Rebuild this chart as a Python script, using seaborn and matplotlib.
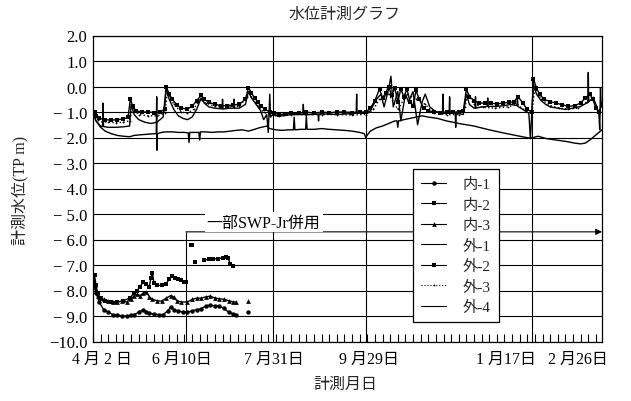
"""
水位計測グラフ (measured water levels, 4/2 - 2/26)
"""

import numpy as np
import pandas as pd
import matplotlib
matplotlib.use('Agg')
import matplotlib.pyplot as plt
from matplotlib.lines import Line2D
from matplotlib.ticker import MultipleLocator
import seaborn as sns

N = None  # 欠測 (gap)

# x = days since 4月2日, y = water level (TP m)
# --- 内側 (deep) ---
in1_day = [0, 2, 4, 7, 10, 13, 16, 19, 22, 25, 27, 30, 33, 35, 37, 40, 43, 46, 49, 51, 53, 56, 59, 62,
           65, 68, 71, 74, 77, 80, 83, 86, 89, 92, 94, 98, 102]
in1_lvl = [-7.7, -8.1, -8.45, -8.75, -8.85, -8.95, -8.95, -9.0, -9.0, -8.97, -8.95, -8.85, -8.75, -8.85,
           -8.9, -8.92, -8.95, -8.95, -8.8, -8.65, -8.75, -8.8, -8.85, -8.85, -8.8, -8.75, -8.72, -8.6,
           -8.58, -8.6, -8.62, -8.7, -8.85, -8.92, -8.95, N, -8.85]

in2_day = [0, 1, 2, 3, 5, 8, 12, 16, 20, 24, 27, 29, 31, 33, 35, 37, 38, 39, 40, 42, 45, 48, 50, 52,
           54, 56, 58, 60, 61, 63, 64, 65, 66, 67, 70, 73, 76, 79, 82, 85, 87, 88.6, 90, 92]
in2_lvl = [-7.6, -7.4, -7.8, -8.1, -8.3, -8.4, -8.45, -8.45, -8.4, -8.3, -8.1, -8.0, -7.85, -7.65,
           -7.75, -7.85, -7.5, -7.3, -7.7, -7.8, -7.8, -7.75, -7.55, -7.45, -7.5, -7.55, -7.6, -7.65,
           -7.65, N, -6.2, -6.2, N, -6.9, N, -6.8, -6.78, -6.77, -6.75, -6.72, -6.7, -6.72, -6.95, -7.05]

in3_day = [0, 1, 2, 3, 5, 7, 10, 13, 16, 19, 22, 25, 27, 29, 31, 33, 35, 37, 39, 42, 45, 48, 51, 53,
           55, 58, 62, 65, 68, 71, 74, 77, 80, 83, 86, 89, 92, 94, 98, 102]
in3_lvl = [-7.5, -7.8, -8.0, -8.2, -8.3, -8.35, -8.4, -8.45, -8.45, -8.42, -8.45, -8.35, -8.2, -8.15,
           -8.2, -8.1, -8.05, -8.25, -8.35, -8.4, -8.42, -8.3, -8.2, -8.25, -8.4, -8.45, -8.45, -8.35,
           -8.3, -8.3, -8.25, -8.22, -8.3, -8.32, -8.35, -8.4, -8.45, -8.45, N, -8.4]

# --- 外側 (shallow) ---
out1_day = [0, 2, 5, 8, 12, 16, 20, 24, 27, 30, 34, 38, 41.5, 41.8, 42.0, 42.3, 45, 48, 52, 56, 60,
            62.5, 63, 63.5, 67, 69.5, 70, 70.5, 74, 78, 82, 86, 90, 94, 98, 102, 106, 109, 112, 114,
            116, 120, 124, 128, 131.5, 132, 132.5, 136, 139.5, 140, 140.5, 145, 150, 155, 160, 165,
            170, 175, 178, 179, 180, 182, 186, 190, 194, 198, 199.5, 200, 200.5, 204, 208, 212, 216,
            220, 226, 232, 240, 250, 260, 270, 280, 286, 289, 292, 298, 304, 310, 316, 320, 323, 326,
            329, 332, 334]
out1_lvl = [-1.1, -1.35, -1.6, -1.75, -1.85, -1.92, -1.95, -1.97, -1.92, -1.9, -1.88, -1.86, -1.85,
            -0.4, -2.5, -1.85, -1.8, -1.78, -1.78, -1.8, -1.8, -1.82, -2.2, -1.8, -1.8, -1.8, -2.1,
            -1.78, -1.78, -1.8, -1.78, -1.78, -1.75, -1.72, -1.7, -1.75, -1.68, -1.62, -1.58, -1.55,
            -1.65, -1.7, -1.72, -1.7, -1.7, -1.2, -1.7, -1.68, -1.68, -1.15, -1.68, -1.68, -1.65,
            -1.68, -1.7, -1.72, -1.75, -1.8, -1.85, -2.0, -1.9, -1.75, -1.62, -1.55, -1.45, -1.35,
            -1.35, -1.6, -1.35, -1.3, -1.25, -1.2, -1.15, -1.2, -1.25, -1.35, -1.45, -1.55, -1.7,
            -1.83, -1.95, -2.02, -2.0, -1.95, -2.05, -2.1, -2.15, -2.22, -2.25, -2.22, -2.1, -1.95,
            -1.8, -1.7]

out2_day = [0, 1, 2, 4, 8, 12, 16, 20, 23, 24.5, 26, 28, 32, 36, 40, 44, 47, 48, 50, 52, 55, 58, 62,
            65, 68, 71, 73, 76, 80, 84, 88, 92, 96, 100, 102, 104, 106, 108, 110, 113, 116, 119, 122,
            126, 130, 135, 140, 145, 150, 155, 160, 165, 170, 175, 179, 182, 185, 188, 190, 192, 194,
            196, 198, 200, 202, 204, 206, 208, 210, 212, 214, 217, 220, 224, 228, 232, 236, 240, 243,
            245, 247, 250, 253, 257, 261, 265, 269, 273, 276, 279, 282, 285, 288, 289, 291, 293, 296,
            300, 304, 308, 312, 316, 320, 323, 326, 328, 330, 332, 334]
out2_lvl = [-1.05, -1.0, -1.15, -1.25, -1.3, -1.32, -1.3, -1.28, -1.2, -0.5, -0.75, -0.95, -1.0,
            -1.0, -1.02, -1.0, -0.9, 0.0, -0.3, -0.5, -0.72, -0.85, -0.88, -0.78, -0.55, -0.35, -0.5,
            -0.62, -0.7, -0.75, -0.75, -0.72, -0.7, -0.5, -0.05, -0.25, -0.45, -0.6, -0.75, -0.9,
            -1.0, -1.05, -1.1, -1.08, -1.05, -1.05, -1.0, -1.05, -1.0, -1.03, -1.0, -1.0, -1.02,
            -1.0, -1.0, -0.85, -0.55, -0.1, -0.45, -0.25, 0.0, -0.35, -0.05, -0.6, -0.1, -0.4, -0.1,
            -0.6, -0.75, -0.15, -0.5, -0.85, -0.95, -1.0, -1.02, -1.0, -1.0, -1.0, -0.95, -0.1,
            -0.4, -0.55, -0.65, -0.65, -0.65, -0.68, -0.65, -0.62, -0.6, -0.4, -0.65, -0.9, -1.0,
            0.3, -0.05, -0.3, -0.5, -0.6, -0.65, -0.72, -0.78, -0.75, -0.65, -0.45, -0.3, -0.5,
            -0.85, -1.0, -0.7]

out3_day = [0, 3, 6, 10, 15, 20, 24, 26, 30, 36, 42, 47, 49, 53, 58, 62, 66, 70, 74, 80, 88, 96, 101,
            104, 108, 112, 116, 122, 130, 140, 150, 160, 170, 179, 184, 188, 194, 200, 206, 212, 218,
            224, 232, 240, 244, 246, 250, 256, 264, 272, 278, 284, 288, 290, 294, 300, 306, 312, 318,
            324, 328, 331, 334]
out3_lvl = [-1.1, -1.3, -1.38, -1.4, -1.42, -1.4, -1.35, -0.85, -1.1, -1.15, -1.15, -1.05, -0.2,
            -0.7, -1.0, -1.05, -0.9, -0.5, -0.65, -0.78, -0.8, -0.78, -0.4, -0.4, -0.75, -1.0, -1.1,
            -1.15, -1.1, -1.1, -1.1, -1.1, -1.12, -1.1, -0.9, -0.5, -0.3, -0.9, -0.3, -0.5, -0.7,
            -1.05, -1.1, -1.1, -0.8, -0.3, -0.7, -0.82, -0.85, -0.8, -0.7, -0.95, -1.05, 0.0, -0.5,
            -0.75, -0.85, -0.88, -0.85, -0.6, -0.4, -0.9, -1.0]

out4_day = [0, 2, 5, 6.3, 6.6, 6.9, 10, 15, 20, 24, 25, 27, 30, 34, 38, 42, 46, 48, 50, 53, 56, 59,
            62, 65, 68, 71, 73, 76, 80, 84.7, 85, 85.3, 90, 92.3, 92.6, 92.9, 96, 100, 102, 104, 107,
            110, 112, 114, 115, 115.5, 116, 116.5, 118, 120, 125, 130, 137.7, 138, 138.3, 144, 147.7,
            148, 148.3, 155, 160, 165, 172.7, 173, 173.3, 179, 182, 186, 189, 191, 194, 195.5, 197,
            200, 202, 205, 207, 210, 213, 216, 218, 221, 224, 228, 229.3, 229.6, 229.9, 233.7, 234,
            234.3, 237.7, 238, 238.3, 243, 245, 247, 250, 250.7, 251, 251.3, 255, 258.7, 259, 259.3,
            265, 270, 274, 278.2, 278.5, 278.8, 282, 286, 287, 288, 289, 291, 294, 297, 300, 305,
            310, 315, 320, 324, 324.7, 325, 325.3, 328, 330, 332, 332.5, 333, 333.5, 334]
out4_lvl = [-1.0, -1.35, -1.55, -1.57, -0.65, -1.57, -1.6, -1.6, -1.58, -1.55, -0.7, -1.1, -1.3,
            -1.4, -1.45, -1.4, -1.2, -0.05, -0.5, -0.9, -1.15, -1.25, -1.3, -1.2, -0.9, -0.45, -0.65,
            -0.8, -0.85, -0.88, -0.5, -0.88, -0.85, -0.85, -0.5, -0.85, -0.85, -0.7, -0.2, -0.45,
            -0.7, -0.95, -1.3, -1.1, -1.8, -1.1, -0.3, -1.2, -1.1, -1.15, -1.15, -1.1, -1.1, -0.7,
            -1.1, -1.1, -1.08, -1.35, -1.08, -1.08, -1.1, -1.08, -1.05, -0.3, -1.05, -1.05, -0.95,
            -0.5, -0.3, -0.8, -0.1, 0.4, -0.8, -0.2, -1.35, -0.3, -0.6, -0.2, -1.5, -0.6, -0.3, -0.8,
            -0.95, -1.05, -1.05, -0.3, -1.05, -1.05, -0.4, -1.05, -1.05, -1.6, -1.05, -1.1, -0.3,
            -0.7, -0.85, -0.85, -0.4, -0.85, -0.8, -0.78, -0.45, -0.78, -0.78, -0.75, -0.7, -0.75,
            -0.4, -0.78, -0.9, -1.05, -2.05, -1.0, 0.1, -0.3, -0.55, -0.7, -0.8, -0.85, -0.9, -0.85,
            -0.78, -0.65, -0.62, 0.55, -0.6, -0.45, -0.7, -1.1, -1.7, -0.05, -0.8, -0.7]

series_names = ['内-1', '内-2', '内-3', '外-1', '外-2', '外-3', '外-4']
series_days = [in1_day, in2_day, in3_day, out1_day, out2_day, out3_day, out4_day]
series_lvls = [in1_lvl, in2_lvl, in3_lvl, out1_lvl, out2_lvl, out3_lvl, out4_lvl]

# axis labelling
y_ticks = list(range(-10, 3))
y_tick_labels = ['−10.0', '− 9.0', '− 8.0', '− 7.0', '− 6.0', '− 5.0', '− 4.0', '− 3.0',
                 '− 2.0', '− 1.0', '0.0', '1.0', '2.0']
x_label_days = [6, 58.5, 119, 181, 271, 318]
x_tick_labels = ['4 月 2 日', '6 月10日', '7 月31日', '9 月29日', '1 月17日', '2 月26日']
x_grid_days = [118, 179, 288]
swp_start_day = 61      # 一部SWP-Jr併用 開始
swp_level = -5.7

# style per series (marker, linestyle, markersize)
styles = {
    '内-1': dict(marker='o', linestyle='-', markersize=3.2),
    '内-2': dict(marker='s', linestyle='-', markersize=3.2),
    '内-3': dict(marker='^', linestyle='-', markersize=3.4),
    '外-1': dict(marker='', linestyle='-', markersize=0),
    '外-2': dict(marker='s', linestyle='-', markersize=2.6),
    '外-3': dict(marker='.', linestyle=':', markersize=2.6),
    '外-4': dict(marker='', linestyle='-', markersize=0),
}

sns.set_theme(style='white')
plt.rcParams['font.family'] = ['Liberation Serif', 'Noto Sans CJK JP']

fig = plt.figure(figsize=(6.31, 4.02), dpi=100)
ax = fig.add_axes([93 / 631, 1 - 342.5 / 402, 509 / 631, 306 / 402])


def draw(name, day, lvl):
    df = pd.DataFrame({'day': np.array(day, dtype=float), 'lvl': np.array(lvl, dtype=float)})
    df['seg'] = df['lvl'].isna().cumsum()
    df = df.dropna()
    st = styles[name]
    sns.lineplot(data=df, x='day', y='lvl', units='seg', estimator=None, sort=False, ax=ax,
                 color='black', linewidth=1.0, marker=st['marker'], linestyle=st['linestyle'],
                 markersize=st['markersize'], markeredgewidth=0, legend=False, zorder=3)


for name, day, lvl in zip(series_names, series_days, series_lvls):
    draw(name, day, lvl)

ax.set_xlim(0, 334)
ax.set_ylim(-10, 2)
ax.set_yticks(y_ticks)
ax.set_yticklabels(y_tick_labels)
ax.set_xticks(x_label_days)
ax.set_xticklabels(x_tick_labels)
ax.xaxis.set_minor_locator(MultipleLocator(5))
ax.tick_params(axis='x', which='major', length=0, pad=7, labelsize=11.5)
ax.tick_params(axis='x', which='minor', direction='in', length=6, width=0.8, color='black',
               bottom=True)
ax.tick_params(axis='y', length=0, pad=4, labelsize=12)
for lab in ax.get_xticklabels() + ax.get_yticklabels():
    lab.set_color('black')

# grid
for v in y_ticks:
    ax.axhline(v, color='black', linewidth=0.8, zorder=1)
for d in x_grid_days:
    ax.axvline(d, color='black', linewidth=0.8, zorder=1)
for sp in ax.spines.values():
    sp.set_color('black')
    sp.set_linewidth(0.9)

# SWP-Jr annotation
ax.vlines(swp_start_day, -10, swp_level, color='black', linewidth=0.8, zorder=1)
ax.annotate('', xy=(334, swp_level), xytext=(swp_start_day, swp_level),
            arrowprops=dict(arrowstyle='-|>', color='black', lw=0.8, mutation_scale=9,
                            shrinkA=0, shrinkB=0), annotation_clip=False, zorder=2)
ax.text(112, -5.33, '一部SWP-Jr併用', ha='center', va='center', fontsize=11.5, color='black',
        bbox=dict(facecolor='white', edgecolor='none', pad=1.5), zorder=2)

ax.set_xlabel('')
ax.set_ylabel('')
fig.text(345 / 631, 1 - 15 / 402, '水位計測グラフ', ha='center', va='center', fontsize=11.5)
fig.text(345 / 631, 1 - 385 / 402, '計測月日', ha='center', va='center', fontsize=11.5)
fig.text(20 / 631, 1 - 190 / 402, '計測水位(TP m)', ha='center', va='center', rotation=90,
         fontsize=11.5)

handles = [Line2D([], [], color='black', linewidth=0.8, marker=styles[n]['marker'],
                  linestyle=styles[n]['linestyle'], markersize=styles[n]['markersize'],
                  markeredgewidth=0)
           for n in series_names]
leg = ax.legend(handles, series_names, loc='upper left',
                bbox_to_anchor=(413 / 631, 1 - 170 / 402), bbox_transform=fig.transFigure,
                borderaxespad=0, frameon=True, fancybox=False, framealpha=1,
                fontsize=11, handlelength=1.6, handletextpad=1.1, labelspacing=0.42,
                borderpad=0.55)
leg.get_frame().set_edgecolor('black')
leg.get_frame().set_linewidth(0.9)
leg.set_zorder(5)

plt.savefig('out.png', dpi=100)
